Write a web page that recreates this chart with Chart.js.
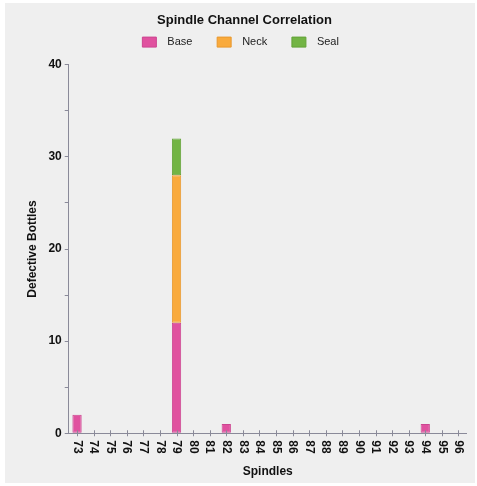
<!DOCTYPE html>
<html><head><meta charset="utf-8">
<script src="https://cdn.jsdelivr.net/npm/chart.js@4/dist/chart.umd.min.js"></script>
<style>html,body{margin:0;padding:0;background:#fff;}#c{display:block;}</style>
</head><body>
<canvas id="c" width="477" height="486"></canvas>
<script>
const spindles = ['73','74','75','76','77','78','79','80','81','82','83','84','85','86','87','88','89','90','91','92','93','94','95','96'];
const baseDefects = [2,0,0,0,0,0,12,0,0,1,0,0,0,0,0,0,0,0,0,0,0,1,0,0];
const neckDefects = [0,0,0,0,0,0,16,0,0,0,0,0,0,0,0,0,0,0,0,0,0,0,0,0];
const sealDefects = [0,0,0,0,0,0,4,0,0,0,0,0,0,0,0,0,0,0,0,0,0,0,0,0];
const FONT = "'Liberation Sans', Arial, sans-serif";
const AXIS = '#8a8a99';

const bgPlugin = {
  id: 'bg',
  beforeDraw(chart) {
    const ctx = chart.ctx;
    ctx.save();
    ctx.fillStyle = '#efefef';
    ctx.fillRect(5, 3, 470, 480);
    ctx.restore();
  }
};
const xLabels = {
  id: 'xLabels',
  afterDraw(chart) {
    const s = chart.scales.x, ctx = chart.ctx;
    ctx.save();
    ctx.strokeStyle = AXIS;
    ctx.lineWidth = 1;
    s.ticks.forEach((t, i) => {
      const x = Math.round(s.getPixelForTick(i)) + 0.5;
      ctx.beginPath();
      ctx.moveTo(x, s.top - 3);
      ctx.lineTo(x, s.top + 3);
      ctx.stroke();
    });
    ctx.font = "bold 12px " + FONT;
    ctx.fillStyle = '#111';
    ctx.textAlign = 'left';
    ctx.textBaseline = 'middle';
    s.ticks.forEach((t, i) => {
      const x = s.getPixelForTick(i);
      ctx.save();
      ctx.translate(x, s.top + 7);
      ctx.rotate(Math.PI / 2);
      ctx.fillText(s.getLabelForValue(t.value), 0, 0);
      ctx.restore();
    });
    ctx.restore();
  }
};

function ds(label, data, color, border) {
  return { label, data, backgroundColor: color, borderColor: border, borderWidth: 1,
           borderSkipped: false, barPercentage: 0.56, categoryPercentage: 1.0 };
}

new Chart(document.getElementById('c'), {
  type: 'bar',
  data: {
    labels: spindles,
    datasets: [
      ds('Base', baseDefects, '#e0519f', '#cc4590'),
      ds('Neck', neckDefects, '#f9aa3c', '#e8982e'),
      ds('Seal', sealDefects, '#72b444', '#62a236')
    ]
  },
  options: {
    responsive: false,
    animation: false,
    layout: { padding: { left: 21, right: 9, top: 6, bottom: 3 } },
    plugins: {
      title: { display: true, text: 'Spindle Channel Correlation', color: '#111',
               font: { family: FONT, size: 13, weight: 'bold' }, padding: { top: 7, bottom: -9 } },
      subtitle: { display: true, text: ' ', weight: 500, font: { size: 1 }, padding: { top: 6, bottom: 0 } },
      legend: { display: true, position: 'top',
                labels: { boxWidth: 14, boxHeight: 10, padding: 17, color: '#222',
                          font: { family: FONT, size: 11 },
                          generateLabels(chart) {
                            const items = Chart.defaults.plugins.legend.labels.generateLabels(chart);
                            items.forEach(it => { it.text = '\u2002' + it.text + '\u2002\u2009'; it.lineWidth = 1; });
                            return items;
                          } } },
      tooltip: { enabled: false }
    },
    scales: {
      x: {
        stacked: true,
        offset: true,
        border: { display: true, color: AXIS, width: 1 },
        grid: { display: false },
        ticks: { color: 'transparent', autoSkip: false, minRotation: 90, maxRotation: 90, padding: 4,
                 font: { family: FONT, size: 12, weight: 'bold' } },
        title: { display: true, text: 'Spindles', color: '#111',
                 font: { family: FONT, size: 12, weight: 'bold' }, padding: { top: 2 } }
      },
      y: {
        stacked: true,
        min: 0, max: 40,
        border: { display: true, color: AXIS, width: 1 },
        grid: { display: true, drawOnChartArea: false, drawTicks: true, tickLength: 4, color: AXIS },
        ticks: { stepSize: 5, color: '#111', padding: 3,
                 font: { family: FONT, size: 12, weight: 'bold' },
                 callback: v => (v % 10 === 0 ? v : '') },
        title: { display: true, text: 'Defective Bottles', color: '#111',
                 font: { family: FONT, size: 12, weight: 'bold' }, padding: { bottom: 6 } }
      }
    }
  },
  plugins: [bgPlugin, xLabels]
});
</script>
</body></html>
